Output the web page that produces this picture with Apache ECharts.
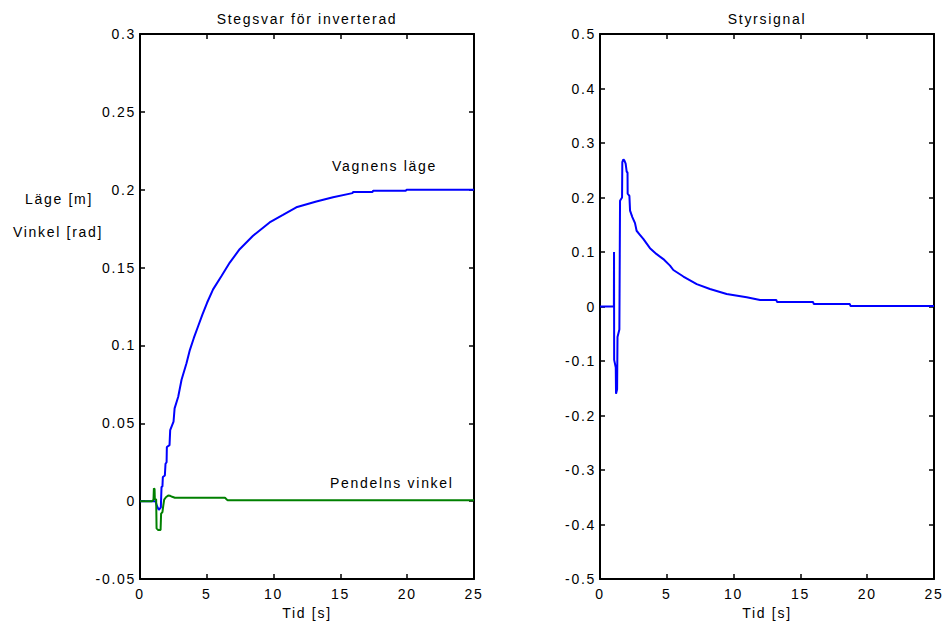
<!DOCTYPE html>
<html>
<head>
<meta charset="utf-8">
<script src="https://cdn.jsdelivr.net/npm/echarts@6/dist/echarts.min.js"></script>
<style>
  html, body { margin: 0; padding: 0; background: #fff; }
  #chart { width: 946px; height: 622px; }
  /* matlab-ish spaced lettering */
  #chart text { letter-spacing: 1.7px; }
</style>
</head>
<body>
<div id="chart"></div>
<script>
// Stegsvar - vagnens läge [m]
var tVagn = [0, 1.16, 1.26, 1.41, 1.56, 1.61, 1.68, 1.71, 1.86, 1.91, 1.99, 2.01, 2.21, 2.26, 2.51, 2.59, 2.86, 3.11,
  3.48, 3.73, 4.03, 4.35, 4.67, 5.02, 5.47, 6.1, 6.72, 7.46, 8.46, 9.7, 10.7, 11.7, 13.2, 14.45, 15.9, 15.95,
  17.4, 17.45, 19.9, 19.95, 25];
var vagnLage = [0, 0, -0.003, -0.0056, -0.004, 0.009, 0.0095, 0.0155, 0.0165, 0.024, 0.025, 0.0348, 0.036, 0.0456,
  0.051, 0.0596, 0.067, 0.078, 0.0886, 0.097, 0.1048, 0.1123, 0.1198, 0.1274, 0.136, 0.1446, 0.1532, 0.1618,
  0.1704, 0.179, 0.1838, 0.1887, 0.1924, 0.1952, 0.1978, 0.1985, 0.1985, 0.1993, 0.1993, 0.2, 0.2];

// pendelns vinkel [rad]
var tPendel = [0, 0.91, 1.01, 1.04, 1.09, 1.11, 1.21, 1.24, 1.36, 1.54, 1.58, 1.68, 1.74, 1.81, 1.94, 2.11, 2.26,
  2.41, 2.61, 6.36, 6.56, 25];
var pendelVinkel = [0, 0, 0.001, 0.0082, 0.0078, 0.0015, 0.001, -0.0175, -0.0185, -0.0185, -0.008, -0.007, -0.003,
  0.001, 0.0025, 0.0036, 0.0034, 0.0028, 0.0022, 0.0022, 0.0005, 0.0005];

// styrsignal
var tStyr = [0, 1.04, 1.05, 1.06, 1.18, 1.2, 1.28, 1.3, 1.31, 1.45, 1.5, 1.65, 1.67, 1.75, 1.82, 1.92, 2.0, 2.06,
  2.07, 2.2, 2.25, 2.42, 2.62, 2.74, 2.94, 3.24, 3.74, 4.24, 4.74, 5.24, 5.49, 6.24, 7.24, 8.23, 9.48, 10.98,
  11.98, 13.2, 13.25, 15.95, 16.0, 18.7, 18.75, 25];
var styrsignal = [0, 0, 0.1, -0.098, -0.112, -0.16, -0.152, -0.152, -0.056, -0.042, 0.194, 0.2, 0.265, 0.27, 0.268,
  0.262, 0.247, 0.246, 0.207, 0.203, 0.176, 0.164, 0.153, 0.139, 0.133, 0.124, 0.107, 0.096, 0.087, 0.075,
  0.067, 0.055, 0.041, 0.032, 0.023, 0.017, 0.012, 0.012, 0.0083, 0.0083, 0.0046, 0.0046, 0.0009, 0.0009];

var xTicks = [0, 25, 5];          // min, max, interval
var yTicksLeft = [-0.05, 0.3, 0.05];
var yTicksRight = [-0.5, 0.5, 0.1];

function pairs(t, v) {
  return t.map(function (x, i) { return [x, v[i]]; });
}

var font = 'Liberation Sans, Arial, Helvetica, sans-serif';
var txt = { color: '#000', fontSize: 14, fontFamily: font };

function xAx(gi, top) {
  return {
    type: 'value', gridIndex: gi, position: top ? 'top' : 'bottom',
    min: xTicks[0], max: xTicks[1], interval: xTicks[2],
    name: top ? '' : 'Tid [s]', nameLocation: 'middle', nameGap: 27,
    nameTextStyle: txt,
    axisLine: { show: true, onZero: false, lineStyle: { color: '#000', width: 2 } },
    axisTick: { show: true, inside: true, length: 5, lineStyle: { color: '#000', width: 1.5 } },
    axisLabel: Object.assign({ show: !top, margin: 8 }, txt),
    splitLine: { show: false }
  };
}
function yAx(gi, right, tk) {
  return {
    type: 'value', gridIndex: gi, position: right ? 'right' : 'left',
    min: tk[0], max: tk[1], interval: tk[2],
    axisLine: { show: true, onZero: false, lineStyle: { color: '#000', width: 2 } },
    axisTick: { show: true, inside: true, length: 5, lineStyle: { color: '#000', width: 1.5 } },
    axisLabel: Object.assign({ show: !right, margin: 4 }, txt),
    splitLine: { show: false }
  };
}
function note(x, y, text) {
  return {
    symbol: 'rect', symbolSize: 1, itemStyle: { color: 'rgba(0,0,0,0)' },
    label: Object.assign({ show: true, position: 'inside', formatter: text }, txt),
    data: [{ coord: [x, y] }]
  };
}

var chart = echarts.init(document.getElementById('chart'), null, { renderer: 'svg' });
chart.setOption({
  animation: false,
  backgroundColor: '#fff',
  title: [
    { text: 'Stegsvar för inverterad', left: 307, top: 12, textAlign: 'center', padding: 0,
      textStyle: Object.assign({ fontWeight: 'normal' }, txt) },
    { text: 'Styrsignal', left: 767, top: 12, textAlign: 'center', padding: 0,
      textStyle: Object.assign({ fontWeight: 'normal' }, txt) }
  ],
  graphic: [
    { type: 'text', x: 59, y: 199, style: { text: 'Läge [m]', align: 'center', verticalAlign: 'middle', fill: '#000', font: '14px ' + font } },
    { type: 'text', x: 58, y: 232, style: { text: 'Vinkel [rad]', align: 'center', verticalAlign: 'middle', fill: '#000', font: '14px ' + font } }
  ],
  grid: [
    { left: 140, right: 472, top: 34, bottom: 43, containLabel: false, outerBoundsMode: 'none' },
    { left: 600, right: 12, top: 34, bottom: 43, containLabel: false, outerBoundsMode: 'none' }
  ],
  xAxis: [xAx(0, false), xAx(0, true), xAx(1, false), xAx(1, true)],
  yAxis: [yAx(0, false, yTicksLeft), yAx(0, true, yTicksLeft), yAx(1, false, yTicksRight), yAx(1, true, yTicksRight)],
  series: [
    {
      name: 'Vagnens läge', type: 'line', xAxisIndex: 0, yAxisIndex: 0,
      showSymbol: false, symbol: 'none', lineStyle: { color: '#0000ff', width: 2 },
      data: pairs(tVagn, vagnLage),
      markPoint: note(18.3, 0.2152, 'Vagnens läge')
    },
    {
      name: 'Pendelns vinkel', type: 'line', xAxisIndex: 0, yAxisIndex: 0,
      showSymbol: false, symbol: 'none', lineStyle: { color: '#008000', width: 2 },
      data: pairs(tPendel, pendelVinkel),
      markPoint: note(18.85, 0.0117, 'Pendelns vinkel')
    },
    {
      name: 'Styrsignal', type: 'line', xAxisIndex: 2, yAxisIndex: 2,
      showSymbol: false, symbol: 'none', lineStyle: { color: '#0000ff', width: 2 },
      data: pairs(tStyr, styrsignal)
    }
  ]
});
</script>
</body>
</html>
